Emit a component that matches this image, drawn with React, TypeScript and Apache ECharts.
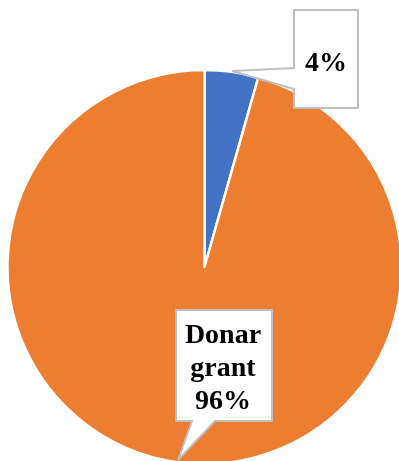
import React, { useEffect, useRef } from "react";
import * as echarts from "echarts";

const categories = ["Own contribution", "Donar grant"];
const values = [4.4, 95.6];
const showCategoryInLabel = [false, true];
const sliceColors = ["#4472C4", "#ED7D31"];

// label anchor positions (layout only)
const labelPositions = [
  [326, 61],
  [223, 366],
];

export default function App() {
  const ref = useRef<HTMLDivElement>(null);
  useEffect(() => {
    if (!ref.current) return;
    const chart = echarts.init(ref.current, null, { renderer: "svg" });
    const data = categories.map((name, i) => ({
      name,
      value: values[i],
      itemStyle: { color: sliceColors[i] },
    }));
    const labelFont = {
      fontFamily: "Liberation Serif",
      fontWeight: "bold" as const,
      fontSize: 28,
      lineHeight: 33,
      color: "#000",
    };
    chart.setOption({
      animation: false,
      graphic: [
        {
          type: "polygon",
          z: 5,
          shape: {
            points: [
              [294, 10], [358, 10], [358, 108], [294, 108], [294, 89], [232, 71], [294, 68],
            ],
          },
          style: { fill: "#fff", stroke: "#BFBFBF", lineWidth: 2 },
        },
        {
          type: "polygon",
          z: 5,
          shape: {
            points: [
              [176, 310], [272, 310], [272, 421], [215, 421], [178, 460], [192, 421], [176, 421],
            ],
          },
          style: { fill: "#fff", stroke: "#BFBFBF", lineWidth: 2 },
        },
      ],
      series: [
        {
          type: "pie",
          z: 2,
          center: [204.5, 267],
          radius: 197,
          startAngle: 90,
          silent: true,
          label: { show: false },
          labelLine: { show: false },
          itemStyle: { borderColor: "#fff", borderWidth: 2.5 },
          data,
        },
        {
          type: "pie",
          z: 10,
          center: [204.5, 267],
          radius: 197,
          startAngle: 90,
          silent: true,
          itemStyle: { color: "transparent", borderWidth: 0 },
          emphasis: { disabled: true },
          labelLine: { show: false },
          label: {
            show: true,
            position: "inside",
            ...labelFont,
            formatter: (p: any) =>
              showCategoryInLabel[p.dataIndex]
                ? `${p.name.replace(" ", "\n")}\n${Math.round(p.percent)}%`
                : `${Math.round(p.percent)}%`,
          },
          labelLayout: (p: any) => ({
            x: labelPositions[p.dataIndex][0],
            y: labelPositions[p.dataIndex][1],
            align: "center",
            verticalAlign: "middle",
          }),
          data: categories.map((name, i) => ({
            name,
            value: values[i],
            itemStyle: { color: "transparent" },
          })),
        },
      ],
    });
    return () => chart.dispose();
  }, []);
  return (
    <div
      ref={ref}
      style={{ position: "fixed", left: 0, top: 0, width: 399, height: 461 }}
    />
  );
}
